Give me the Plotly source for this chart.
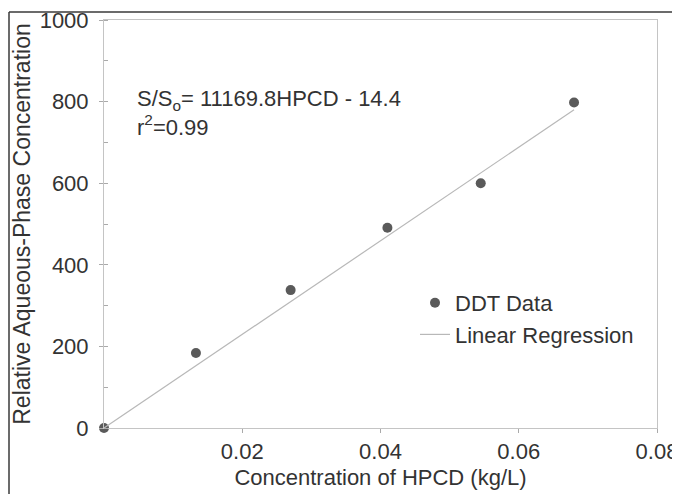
import plotly.graph_objects as go

# Data
hpcd = [0.0, 0.0133, 0.0270, 0.0410, 0.0545, 0.0680]
rel_conc = [0, 184, 338, 491, 600, 798]
reg_x = [0.0, 0.0680]
reg_y = [0, 780]
x_ticks = [0.02, 0.04, 0.06, 0.08]
x_tick_labels = ["0.02", "0.04", "0.06", "0.08"]
y_ticks = [0, 200, 400, 600, 800, 1000]

FONT = "Liberation Sans, Arial, sans-serif"
TXT = "#333333"

fig = go.Figure()
fig.add_trace(go.Scatter(
    x=hpcd, y=rel_conc, mode="markers", name="DDT Data", cliponaxis=False,
    marker=dict(color="#5a5a5a", size=10, line=dict(width=0)),
))
fig.add_trace(go.Scatter(
    x=reg_x, y=reg_y, mode="lines", name="Linear Regression",
    line=dict(color="#b8b8b8", width=1.2),
))

# page body has an 8px margin: figure coordinates = page coordinates - 8
OFF = 8
W, H = 680 - OFF, 494 - OFF
L, T = 104 - OFF, 20 - OFF
pw, ph = 553, 408
R, B = W - L - pw, H - T - ph

def px(x):
    return (x - OFF - L) / pw

def py(y):
    return (H - B - (y - OFF)) / ph

frame = dict(color="#3a3a3a", width=1.5)
shapes = [
    dict(type="line", xref="paper", yref="paper", x0=px(9), x1=px(678), y0=py(12), y1=py(12), line=frame),
    dict(type="line", xref="paper", yref="paper", x0=px(9), x1=px(9), y0=py(12), y1=py(520), line=frame),
    dict(type="line", xref="paper", yref="paper", x0=px(678), x1=px(678), y0=py(12), y1=py(520), line=frame),
]

fig.update_layout(
    width=W, height=H,
    margin=dict(l=L, r=R, t=T, b=B, autoexpand=False),
    paper_bgcolor="white", plot_bgcolor="white",
    font=dict(family=FONT, size=22, color=TXT),
    showlegend=True,
    legend=dict(
        x=px(415), y=py(282), xanchor="left", yanchor="top",
        bgcolor="rgba(0,0,0,0)", font=dict(size=22, color=TXT),
        tracegroupgap=0, itemwidth=30,
    ),
    shapes=shapes,
    annotations=[dict(
        xref="paper", yref="paper", x=px(135), y=py(84), xanchor="left", yanchor="top",
        text="S/S<sub>o</sub>= 11169.8HPCD - 14.4<br>r<sup>2</sup>=0.99",
        showarrow=False, align="left", font=dict(size=22, color=TXT),
    )],
    xaxis=dict(
        range=[0, 0.08], tickvals=x_ticks, ticktext=x_tick_labels,
        showgrid=False, zeroline=False, showline=True, mirror=True,
        linecolor="#c4c4c4", linewidth=1, automargin=False,
        ticks="outside", ticklen=4, tickcolor="#aaaaaa", ticklabeloverflow="allow",
        tickfont=dict(size=22, color=TXT),
        title=dict(text="Concentration of HPCD (kg/L)", font=dict(size=22, color=TXT), standoff=6),
    ),
    yaxis=dict(
        range=[0, 1000], tickvals=y_ticks,
        showgrid=False, zeroline=False, showline=True, mirror=True,
        linecolor="#c4c4c4", linewidth=1, automargin=False,
        ticks="outside", ticklen=4, tickcolor="#aaaaaa", ticklabelstandoff=6,
        ticklabeloverflow="allow",
        minor=dict(dtick=100, ticks="inside", ticklen=4, tickcolor="#aaaaaa"),
        tickfont=dict(size=22, color=TXT),
        title=dict(text="Relative Aqueous-Phase Concentration", font=dict(size=23, color=TXT), standoff=2),
    ),
)

fig.write_html("out.html")
